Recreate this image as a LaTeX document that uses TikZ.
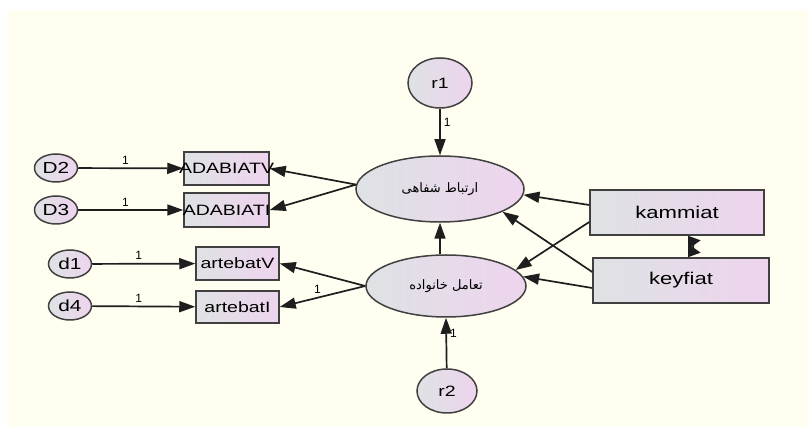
\documentclass[tikz,border=0pt]{standalone}
\usepackage{fontspec}
\setmainfont{Liberation Sans}
\newfontfamily\arabicfont[Script=Arabic]{DejaVu Sans}
\TeXXeTstate=1
\usetikzlibrary{arrows.meta,shapes.geometric}
\definecolor{bgcream}{RGB}{255,254,240}
\definecolor{fillgray}{RGB}{222,226,228}
\definecolor{fillpink}{RGB}{238,212,238}
\definecolor{linegray}{RGB}{30,30,30}
\newcommand{\wtxt}[1]{\scalebox{1.3}[1]{#1}}

\begin{document}
\begin{tikzpicture}[x=0.5pt,y=-0.5pt,
	>={Triangle[length=8pt,width=5.5pt]},
	obs/.style={draw=linegray!85,line width=0.75pt,left color=fillgray,right color=fillpink,inner sep=0pt},
	lat/.style={obs,ellipse},
	boxfont/.style={font=\fontsize{8.5}{10}\selectfont},
	smallbox/.style={font=\fontsize{7.5}{9}\selectfont},
	arr/.style={->,draw=linegray,line width=0.85pt},
	one/.style={font=\fontsize{6}{7}\selectfont,inner sep=1.5pt}]
	%Hintergrund
	\useasboundingbox (0,0) rectangle (808,426);
	\fill[white] (0,0) rectangle (808,426);
	\fill[bgcream] (7,10) rectangle (808,426);
	%latente Variablen
	\node[lat,minimum width=84pt,minimum height=33pt] (ert) at (440,189)
		{\fontsize{6.5}{8}\selectfont\arabicfont\beginR ارتباط شفاهی\endR};
	\node[lat,minimum width=80pt,minimum height=31pt] (taa) at (446,286)
		{\fontsize{6.5}{8}\selectfont\arabicfont\beginR تعامل خانواده\endR};
	\node[lat,minimum width=32pt,minimum height=25pt,font=\fontsize{7.5}{9}\selectfont] (r1) at (440,83) {\wtxt{r1}};
	\node[lat,minimum width=30pt,minimum height=22pt,font=\fontsize{7.5}{9}\selectfont] (r2) at (447,391) {\wtxt{r2}};
	%beobachtete Variablen
	\node[obs,boxfont,minimum width=87pt,minimum height=22.5pt] (kam) at (677,212.5) {\wtxt{kammiat}};
	\node[obs,boxfont,minimum width=88pt,minimum height=22.5pt] (key) at (681,280.5) {\wtxt{keyfiat}};
	\node[obs,smallbox,minimum width=42.5pt,minimum height=16.5pt] (av) at (226.5,168.5) {\makebox[0pt]{\wtxt{ADABIATV}}};
	\node[obs,smallbox,minimum width=42.5pt,minimum height=17pt] (ai) at (226.5,210) {\makebox[0pt]{\wtxt{ADABIATI}}};
	\node[obs,smallbox,minimum width=41.5pt,minimum height=16.5pt] (tv) at (237.5,263.5) {\makebox[0pt]{\wtxt{artebatV}}};
	\node[obs,smallbox,minimum width=41.5pt,minimum height=16pt] (ti) at (237.5,307) {\makebox[0pt]{\wtxt{artebatI}}};
	%Fehlerterme
	\foreach \nm/\x/\y/\bx in {D2/56/168/av, D3/56/210/ai, d1/70/264/tv, d4/70/306/ti}{
		\node[lat,minimum width=21.5pt,minimum height=14pt,font=\fontsize{8}{9}\selectfont] (\nm) at (\x,\y) {\wtxt{\nm}};
		\draw[arr] (\nm) -- node[one,above,pos=.45] {1} (\bx);
	}
	%Pfade
	\draw[arr] (r1) -- node[one,right,pos=.3] {1} (ert.north);
	\draw[arr] (r2) -- node[one,right,pos=.7] {1} (taa.south);
	\draw[arr] (ert.south |- taa.north) -- (ert.south);
	\draw[arr] (ert.177) -- (av.east);
	\draw[arr] (ert.177) -- (ai.east);
	\draw[arr] (taa.west) -- (tv.east);
	\draw[arr] (taa.west) -- node[one,above,pos=.56] {1} (ti.east);
	\draw[arr] ([yshift=3.75pt]kam.west) -- (ert.-4);
	\draw[arr] ([yshift=-4.75pt]kam.west) -- (taa.13);
	\draw[arr] ([yshift=4.25pt]key.west) -- (ert.-20);
	\draw[arr] ([yshift=-3.75pt]key.west) -- (taa.7);
	%Kovarianz
	\draw[{Triangle[length=5.5pt,width=7.5pt]}-{Triangle[length=5.5pt,width=7.5pt]},draw=linegray,line width=0.85pt]
		([xshift=5.5pt]kam.south) to[bend left=35] ([xshift=3.5pt]key.north);
\end{tikzpicture}
\end{document}
